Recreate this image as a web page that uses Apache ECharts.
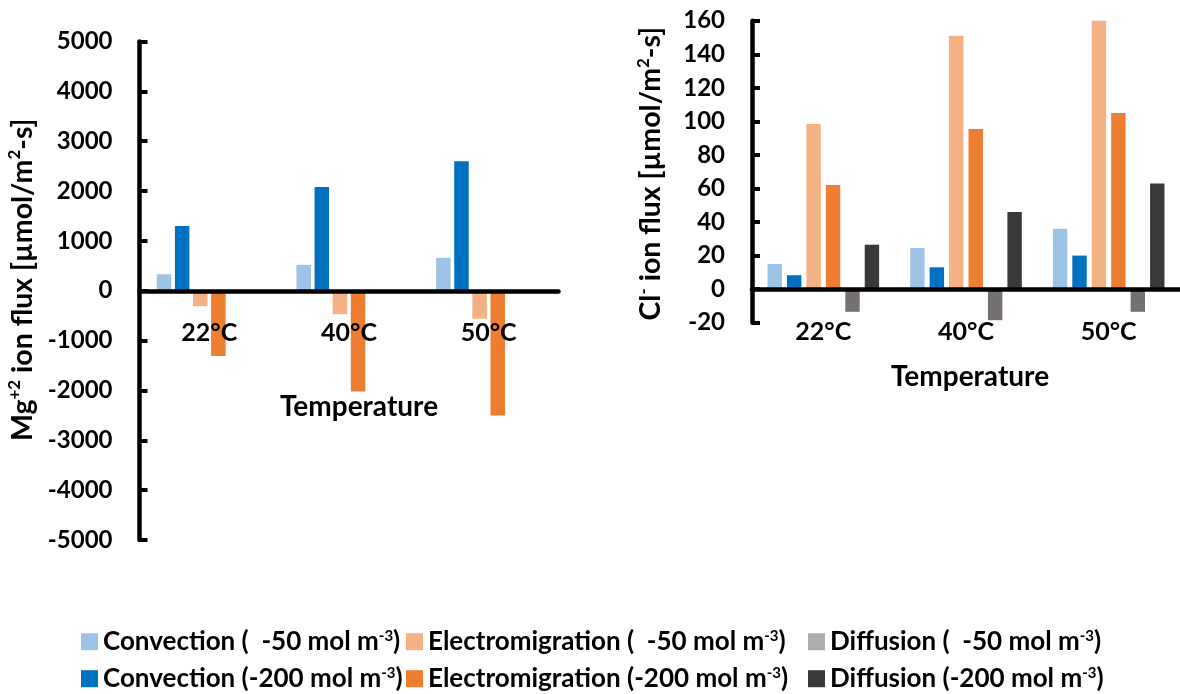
<!DOCTYPE html>
<html>
<head>
<meta charset="utf-8">
<script src="https://cdn.jsdelivr.net/npm/echarts@6/dist/echarts.min.js"></script>
<style>
  html, body { margin: 0; padding: 0; background: #fff; }
  #chart { width: 1180px; height: 694px; }
</style>
</head>
<body>
<div id="chart"></div>
<script>
// Temperatures on both category axes
const categories = ['22°C', '40°C', '50°C'];

// Mg+2 ion flux [µmol/m2-s]
const mgConvLow  = [330, 520, 660];
const mgConvHigh = [1300, 2080, 2600];
const mgElecLow  = [-310, -470, -560];
const mgElecHigh = [-1310, -2020, -2500];
const mgDiffLow  = [0, 0, 0];
const mgDiffHigh = [0, 0, 0];

// Cl- ion flux [µmol/m2-s]
const clConvLow  = [15, 24.5, 36];
const clConvHigh = [8.3, 13, 20];
const clElecLow  = [98.5, 151, 160];
const clElecHigh = [62, 95.5, 105];
const clDiffLow  = [-13.5, -18.5, -13.5];
const clDiffHigh = [26.5, 46, 63];

// Tick values of the two value axes
const mgTicks = { min: -5000, max: 5000, interval: 1000 };
const clTicks = { min: -20, max: 160, interval: 20 };

const seriesNames = [
  'Convection (  -50 mol m-3)',
  'Convection (-200 mol m-3)',
  'Electromigration (  -50 mol m-3)',
  'Electromigration (-200 mol m-3)',
  'Diffusion (  -50 mol m-3)',
  'Diffusion (-200 mol m-3)'
];

const colors = ['#9DC3E6', '#0070C0', '#F4B183', '#ED7D31', '#767171', '#3B3838'];
const legendColors = ['#9DC3E6', '#0070C0', '#F4B183', '#ED7D31', '#AFABAB', '#3B3838'];

const FONT = 'Lato, "Open Sans", sans-serif';

// Plot areas
const gridMg = { left: 139.5, top: 41.5, width: 419, height: 498.5 };
const gridCl = { left: 752, top: 20.7, width: 438, height: 302 };

const mgData = [mgConvLow, mgConvHigh, mgElecLow, mgElecHigh, mgDiffLow, mgDiffHigh];
const clData = [clConvLow, clConvHigh, clElecLow, clElecHigh, clDiffLow, clDiffHigh];

const series = [];
mgData.forEach((d, i) => series.push({
  name: seriesNames[i], type: 'bar', xAxisIndex: 0, yAxisIndex: 0,
  data: d, barWidth: 14.5, barGap: '25%', itemStyle: { color: colors[i] }
}));
clData.forEach((d, i) => series.push({
  name: seriesNames[i], type: 'bar', xAxisIndex: 1, yAxisIndex: 1,
  data: d, barWidth: 14.4, barGap: '35%', itemStyle: { color: colors[i] }
}));

function richSet(size, supSize, lh) {
  return {
    t: { fontFamily: FONT, fontWeight: 'bold', fontSize: size, color: '#000', lineHeight: lh },
    s: { fontFamily: FONT, fontWeight: 'bold', fontSize: supSize, color: '#000', lineHeight: supSize + 2, verticalAlign: 'top' }
  };
}

function legendFormat(name) {
  return '{t|' + name.replace('m-3)', 'm}{s|-3}{t|)}');
}

function makeLegend(idx, left) {
  return {
    orient: 'vertical', left: left, top: 628.7, height: 120, padding: 0, itemGap: 11,
    itemWidth: 17, itemHeight: 17, icon: 'rect',
    data: idx.map(i => ({ name: seriesNames[i], itemStyle: { color: legendColors[i] } })),
    formatter: legendFormat,
    textStyle: { rich: richSet(26, 15, 26) }
  };
}

function valueAxis(gridIndex, ticks, nameRich, nameGap, namePad) {
  return {
    type: 'value', gridIndex: gridIndex,
    min: ticks.min, max: ticks.max, interval: ticks.interval,
    splitLine: { show: false },
    axisLine: { show: true, lineStyle: { color: '#000', width: 4.5 } },
    axisTick: { show: true, inside: true, length: 8, lineStyle: { color: '#000', width: 4 } },
    axisLabel: {
      margin: 27, fontFamily: FONT, fontWeight: 'bold', fontSize: 24, color: '#000',
      formatter: v => String(v)
    },
    name: nameRich, nameLocation: 'middle', nameRotate: 90, nameGap: nameGap,
    nameTextStyle: { rich: richSet(28.5, 17, 32), padding: namePad }
  };
}

// The category axis sits on the zero line of its value axis
function catAxis(gridIndex, grid, ticks, nameGap, namePad) {
  const zeroOffset = -grid.height * (0 - ticks.min) / (ticks.max - ticks.min);
  return {
    type: 'category', gridIndex: gridIndex, data: categories, z: 10,
    position: 'bottom', offset: zeroOffset,
    axisLine: { show: true, onZero: false, lineStyle: { color: '#000', width: 4.5 } },
    axisTick: { show: false },
    axisLabel: { interval: 0, margin: 30, fontFamily: FONT, fontWeight: 'bold', fontSize: 25, color: '#000' },
    name: 'Temperature', nameLocation: 'middle', nameGap: nameGap,
    nameTextStyle: { fontFamily: FONT, fontWeight: 'bold', fontSize: 28, color: '#000', padding: namePad }
  };
}

const option = {
  backgroundColor: '#fff',
  animation: false,
  grid: [gridMg, gridCl],
  xAxis: [
    catAxis(0, gridMg, mgTicks, 102, [0, 0, 0, 20]),
    catAxis(1, gridCl, clTicks, 74, [0, 0, 0, 8])
  ],
  yAxis: [
    valueAxis(0, mgTicks, '{t|Mg}{s|+2}{t| ion flux [µmol/m}{s|2}{t|-s]}', 101, [0, 0, 0, 22]),
    valueAxis(1, clTicks, '{t|Cl}{s|-}{t| ion flux [µmol/m}{s|2}{t|-s]}', 85, [0, 4, 0, 0])
  ],
  legend: [makeLegend([0, 1], 81), makeLegend([2, 3], 406), makeLegend([4, 5], 808)],
  series: series
};

const chart = echarts.init(document.getElementById('chart'), null, { renderer: 'canvas' });
chart.setOption(option);
</script>
</body>
</html>
